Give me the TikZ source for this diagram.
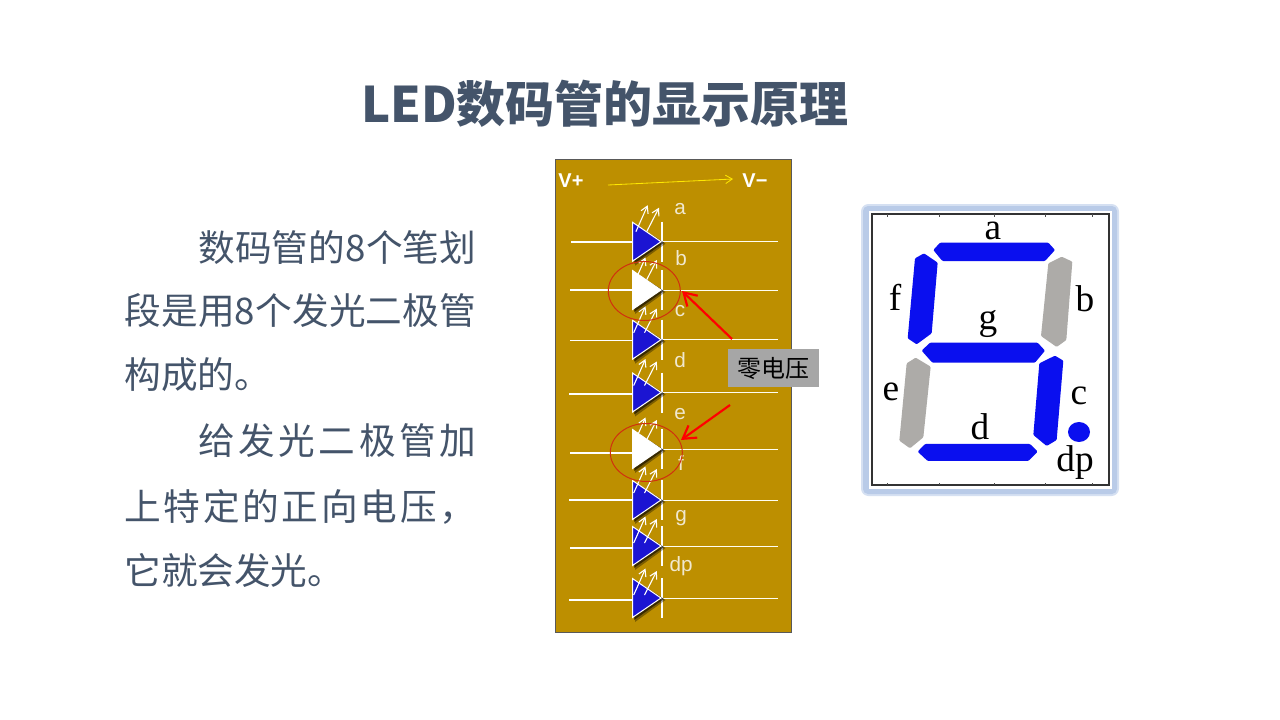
\documentclass[tikz,border=0pt]{standalone}
\usepackage{fontspec}
\setmainfont{Noto Sans CJK SC}
\newfontfamily\latinsans{Liberation Sans}
\newfontfamily\latinserif{Liberation Serif}
\usetikzlibrary{arrows.meta,shapes.geometric}
\definecolor{slate}{HTML}{44546A}
\definecolor{panel}{HTML}{BD8F00}
\definecolor{ledblue}{HTML}{1B14D2}
\definecolor{segblue}{HTML}{0A0FEF}
\definecolor{seggray}{HTML}{ADABA8}
\definecolor{frameblue}{HTML}{B9CBE8}
\definecolor{frameblueb}{HTML}{D5E0F2}
\definecolor{ringred}{HTML}{D0300F}
\definecolor{lbl}{HTML}{F0E8D0}
\tikzset{
  x=0.6pt,y=-0.6pt,
  titletext/.style={anchor=base,text=slate,font=\fontsize{29.4}{34}\selectfont\bfseries,inner sep=0},
  bodytext/.style={anchor=base west,text=slate,font=\fontsize{22}{26}\selectfont,inner sep=0},
  pinlabel/.style={anchor=base,text=lbl,font=\latinsans\fontsize{12.4}{14}\selectfont,inner sep=0},
  powerlabel/.style={anchor=base,text=white,font=\latinsans\fontsize{12}{14}\selectfont\bfseries,inner sep=0},
  seglabel/.style={anchor=base,text=black,font=\latinserif\fontsize{22.4}{24}\selectfont,inner sep=0},
  wire/.style={white,line width=0.9pt},
  thinwire/.style={white!95!yellow,line width=0.6pt},
  ledbar/.style={white,line width=0.9pt},
  ray/.style={white,line width=0.65pt,-{Straight Barb[length=4pt,width=4.6pt]}},
  ring/.style={draw=ringred,line width=0.6pt,ellipse,inner sep=0},
  redarrow/.style={red,line width=1.3pt,-{Straight Barb[length=7.5pt,width=9pt]}},
  seg/.style={line join=round,rounded corners=0.6pt},
}
\newcommand{\ledbody}[2]{% tip y, fill
  \fill[black,opacity=.35] (635,#1-18) -- (665.5,#1+2) -- (635,#1+24) -- cycle;
  \fill[black,opacity=.55] (634,#1-18) -- (664,#1+1) -- (634,#1+22) -- cycle;
  \filldraw[draw=white,line width=0.6pt,fill=#2] (632.5,#1-19.5) -- (661,#1) -- (632.5,#1+19.5) -- cycle;
}
\newcommand{\ledrays}[3]{% tip y, dy, dx
  \draw[ray] (633.7+#3,#1-10+#2) -- (645.5+#3,#1-36.5+#2);
  \draw[ray] (644.5+#3,#1-10+#2) -- (656.8+#3,#1-34+#2);
}
\begin{document}
\begin{tikzpicture}
\useasboundingbox (0,0) rectangle (1280,720);
\fill[white] (0,0) rectangle (1280,720);
% title and text
\node[titletext] (title) at (605,122) {LED数码管的显示原理};
\node[bodytext] (t1) at (198,261) {\makebox[166.8pt][s]{数\hfil 码\hfil 管\hfil 的\hfil 8\hfil 个\hfil 笔\hfil 划}};
\node[bodytext] (t2) at (124,324) {\makebox[211.2pt][s]{段\hfil 是\hfil 用\hfil 8\hfil 个\hfil 发\hfil 光\hfil 二\hfil 极\hfil 管}};
\node[bodytext] (t3) at (124,388) {构成的。};
\node[bodytext] (t4) at (198,454) {\makebox[166.8pt][s]{给\hfil 发\hfil 光\hfil 二\hfil 极\hfil 管\hfil 加}};
\node[bodytext] (t5) at (124,520) {\makebox[211.2pt][s]{上\hfil 特\hfil 定\hfil 的\hfil 正\hfil 向\hfil 电\hfil 压\hfil ，}};
\node[bodytext] (t6) at (124,584) {它就会发光。};
% LED panel
\filldraw[draw=black!65,line width=0.5pt,fill=panel] (555,159) rectangle (791,632);
\node[powerlabel] (vp) at (571,187) {V+};
\node[powerlabel] (vm) at (755,187) {V−};
\coordinate (ya) at (608,185); \coordinate (yb) at (733,179);
\draw[yellow!90!orange,line width=0.5pt,-{Straight Barb[length=4pt,width=5pt]}] (ya) -- (yb);
% wires
\foreach \lx/\ly/\t in {571/242/241.7,570/290/290,570/340.7/339.7,569/394/392.5,570/453/449,569/500/500,570/548/546,569/600/598}{
  \draw[wire] (\lx,\ly) -- (632,\ly);
  \draw[thinwire] (661,\t) -- (777.5,\t);
  \draw[ledbar] (662,\t-20) -- (662,\t+20);
}
% lit LEDs
\foreach \t/\dy/\dx in {241.7/0/2.2,339.7/3/0,392.5/3/0,500/3/0,546/7/0,598/7/0}{
  \ledbody{\t}{ledblue}
  \ledrays{\t}{\dy}{\dx}
}
% dark LEDs
\foreach \t/\dy/\dx in {290/4/0,449/5/0}{
  \ledrays{\t}{\dy}{\dx}
  \ledbody{\t}{white}
}
% pin labels
\node[pinlabel] (la) at (680,214.3) {a};
\node[pinlabel] (lb) at (681,265) {b};
\node[pinlabel] (lc) at (680,316.7) {c};
\node[pinlabel] (ld) at (680,367.7) {d};
\node[pinlabel] (le) at (680,419) {e};
\node[pinlabel] (lf) at (681,470) {f};
\node[pinlabel] (lg) at (681,521) {g};
\node[pinlabel] (ldp) at (681,571.7) {dp};
% rings
\node[ring,minimum width=43.2pt,minimum height=35.4pt] (r1) at (644.3,291) {};
\node[ring,minimum width=43.2pt,minimum height=34.8pt] (r2) at (646.3,452.5) {};
% zero-voltage label
\node[fill=black!35,text=black,minimum width=54.9pt,minimum height=22.8pt,inner sep=0,font=\fontsize{14.4}{16}\selectfont] (zero) at (773.7,368) {零电压};
\coordinate (z1) at (732,339); \coordinate (z2) at (730,405);
\coordinate (e1) at (682,291); \coordinate (e2) at (681,440);
\draw[redarrow] (z1) -- (e1);
\draw[redarrow] (z2) -- (e2);
% seven-segment picture
\fill[frameblueb,rounded corners=4.5pt] (861,204) rectangle (1119,496);
\fill[frameblue,rounded corners=3pt] (863,206) rectangle (1117,494);
\fill[white] (869,211) rectangle (1112,489);
\draw[black!80,line width=1.1pt] (871.7,214) rectangle (1109,485);
\foreach \tx in {887,939,994,1045,1092}{
  \draw[black!70,line width=0.4pt] (\tx,214) -- (\tx,216.5);
  \draw[black!70,line width=0.4pt] (\tx,485) -- (\tx,482.5);
}
\begin{scope}[shift={(855,200)},x=0.2pt,y=-0.2pt]
\fill[segblue,seg] (235,150) -- (255,128) -- (580,128) -- (600,150) -- (570,183) -- (262,183) -- cycle;
\fill[segblue,seg] (180,175) -- (207,160) -- (248,188) -- (230,400) -- (185,433) -- (158,415) -- cycle;
\fill[seggray,seg] (580,190) -- (620,170) -- (652,185) -- (634,420) -- (605,441) -- (558,408) -- cycle;
\fill[segblue,seg] (200,452) -- (225,428) -- (548,428) -- (570,452) -- (540,488) -- (232,488) -- cycle;
\fill[seggray,seg] (155,490) -- (182,473) -- (227,500) -- (205,712) -- (165,745) -- (133,722) -- cycle;
\fill[segblue,seg] (553,490) -- (600,467) -- (625,482) -- (605,720) -- (575,738) -- (535,705) -- cycle;
\fill[segblue,seg] (188,755) -- (210,732) -- (525,732) -- (548,755) -- (520,783) -- (218,783) -- cycle;
\fill[segblue] (672,696) ellipse [x radius=33,y radius=30];
\end{scope}
\node[seglabel] (sa) at (993,239.3) {a};
\node[seglabel] (sf) at (895,310) {f};
\node[seglabel] (sg) at (988,329) {g};
\node[seglabel] (sb) at (1085,311.7) {b};
\node[seglabel] (se) at (891,400) {e};
\node[seglabel] (sc) at (1079,404) {c};
\node[seglabel] (sd) at (980,439) {d};
\node[seglabel] (sdp) at (1075,471.7) {dp};
\end{tikzpicture}
\end{document}
